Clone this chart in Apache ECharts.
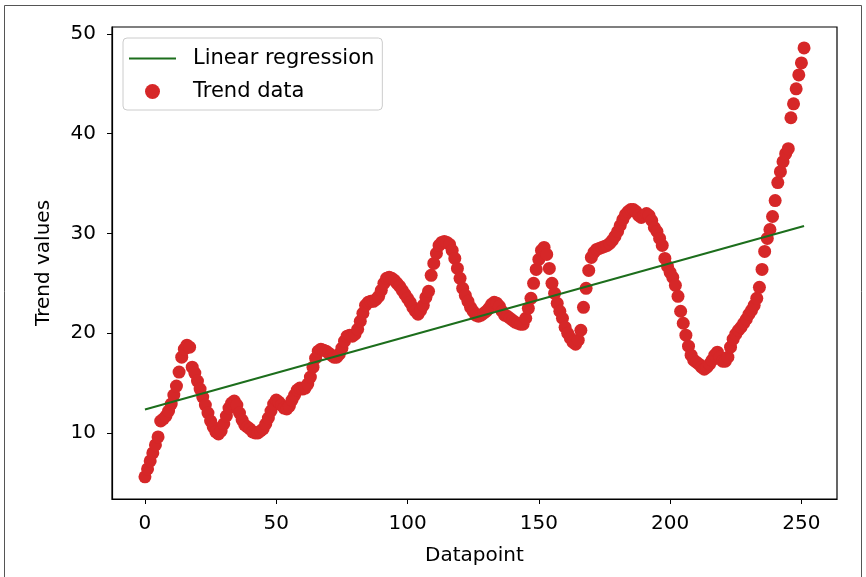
<!DOCTYPE html>
<html>
<head>
<meta charset="utf-8">
<script src="https://cdn.jsdelivr.net/npm/echarts@6/dist/echarts.min.js"></script>
<style>
  html, body { margin: 0; padding: 0; background: #fff; }
  #chart { width: 866px; height: 577px; }
</style>
</head>
<body>
<div id="chart"></div>
<script>
// ---- data ----
const trendValues = [
  5.6, 6.4, 7.2, 8.0, 8.8, 9.6, 11.2, 11.4, 11.7, 12.2,
  12.9, 13.8, 14.7, 16.1, 17.6, 18.4, 18.8, 18.6, 16.6, 16.0,
  15.2, 14.4, 13.6, 12.8, 12.0, 11.2, 10.6, 10.1, 9.9, 10.2,
  10.9, 11.7, 12.5, 13.0, 13.2, 12.8, 12.0, 11.3, 10.8, 10.6,
  10.4, 10.1, 10.0, 10.0, 10.2, 10.4, 10.9, 11.5, 12.2, 12.9,
  13.3, 13.1, 12.8, 12.5, 12.4, 12.7, 13.3, 13.8, 14.3, 14.5,
  14.4, 14.5, 14.9, 15.6, 16.6, 17.5, 18.2, 18.4, 18.3, 18.2,
  18.0, 17.8, 17.6, 17.6, 17.9, 18.5, 19.2, 19.7, 19.8, 19.7,
  19.9, 20.4, 21.2, 22.0, 22.8, 23.1, 23.2, 23.2, 23.4, 23.7,
  24.3, 25.0, 25.5, 25.6, 25.5, 25.3, 25.0, 24.7, 24.3, 23.9,
  23.5, 23.1, 22.6, 22.2, 21.9, 22.3, 22.8, 23.6, 24.2, 25.8,
  27.0, 28.0, 28.8, 29.1, 29.2, 29.1, 28.9, 28.3, 27.5, 26.5,
  25.5, 24.5, 23.8, 23.2, 22.6, 22.2, 21.8, 21.7, 21.8, 22.0,
  22.2, 22.5, 22.9, 23.1, 23.0, 22.7, 22.2, 21.8, 21.7, 21.5,
  21.3, 21.1, 21.0, 20.9, 20.9, 21.5, 22.5, 23.5, 25.0, 26.4,
  27.4, 28.3, 28.6, 27.9, 26.5, 25.0, 24.0, 23.0, 22.2, 21.5,
  20.6, 20.0, 19.5, 19.1, 18.9, 19.3, 20.3, 22.6, 24.5, 26.3,
  27.6, 28.1, 28.4, 28.5, 28.6, 28.7, 28.8, 29.0, 29.3, 29.7,
  30.2, 30.8, 31.4, 31.9, 32.2, 32.4, 32.4, 32.2, 31.8, 31.6,
  31.8, 32.0, 31.8, 31.3, 30.6, 30.2, 29.5, 28.8, 27.5, 26.7,
  26.1, 25.6, 24.8, 23.7, 22.2, 21.0, 19.8, 18.7, 17.8, 17.3,
  17.1, 16.9, 16.6, 16.4, 16.6, 16.9, 17.3, 17.8, 18.1, 17.6,
  17.2, 17.2, 17.6, 18.6, 19.4, 19.9, 20.3, 20.6, 21.0, 21.4,
  21.9, 22.3, 22.8, 23.5, 24.6, 26.4, 28.2, 29.5, 30.4, 31.7,
  33.3, 35.1, 36.2, 37.2, 38.0, 38.5, 41.6, 43.0, 44.5, 45.9,
  47.1, 48.6
];
const regressionX = [0, 251];
const regressionY = [12.35, 30.75];
const xTickValues = [0, 50, 100, 150, 200, 250];
const yTickValues = [10, 20, 30, 40, 50];
const seriesNames = ['Linear regression', 'Trend data'];
// ---------------------------------------

const FONT = 'DejaVu Sans';
const scatterData = trendValues.map((v, i) => [i, v]);
const lineData = regressionX.map((x, i) => [x, regressionY[i]]);

const chart = echarts.init(document.getElementById('chart'), null, { renderer: 'canvas' });
chart.setOption({
  backgroundColor: '#fff',
  animation: false,
  graphic: [{
    type: 'rect',
    shape: { x: 4.5, y: 5.5, width: 857, height: 590 },
    style: { fill: 'none', stroke: '#555', lineWidth: 1 },
    silent: true,
    z: -10
  }],
  grid: {
    left: 112, right: 29, top: 27, bottom: 78,
    show: true, borderColor: '#000', borderWidth: 1.2, backgroundColor: 'transparent'
  },
  legend: {
    orient: 'vertical',
    left: 123, top: 38,
    padding: [10, 8, 8, 5],
    itemWidth: 47, itemHeight: 15, itemGap: 12,
    backgroundColor: '#fff',
    borderColor: '#cccccc', borderWidth: 1, borderRadius: 4,
    textStyle: { fontFamily: FONT, fontSize: 21, color: '#000', padding: [0, 0, 0, 12] },
    data: [
      { name: seriesNames[0], itemStyle: { opacity: 0 } },
      { name: seriesNames[1] }
    ]
  },
  xAxis: {
    type: 'value',
    min: -12.55, max: 263.55,
    name: 'Datapoint', nameLocation: 'middle', nameGap: 47,
    nameTextStyle: { fontFamily: FONT, fontSize: 20, color: '#000' },
    axisLine: { show: true, onZero: false, lineStyle: { color: '#000', width: 1.2 } },
    axisTick: { show: true, length: 5, lineStyle: { color: '#000', width: 1 }, customValues: xTickValues },
    axisLabel: { fontFamily: FONT, fontSize: 20, color: '#000', margin: 15, customValues: xTickValues },
    splitLine: { show: false }
  },
  yAxis: {
    type: 'value',
    min: 3.38, max: 50.7,
    name: 'Trend values', nameLocation: 'middle', nameGap: 58, nameRotate: 90,
    nameTextStyle: { fontFamily: FONT, fontSize: 20, color: '#000' },
    axisLine: { show: true, onZero: false, lineStyle: { color: '#000', width: 1.2 } },
    axisTick: { show: true, length: 5, lineStyle: { color: '#000', width: 1 }, customValues: yTickValues },
    axisLabel: { fontFamily: FONT, fontSize: 20, color: '#000', margin: 16, customValues: yTickValues },
    splitLine: { show: false }
  },
  series: [
    {
      name: seriesNames[0],
      type: 'line',
      data: lineData,
      symbol: 'none',
      lineStyle: { color: '#1c6e1c', width: 2 },
      itemStyle: { color: '#1c6e1c' },
      z: 5
    },
    {
      name: seriesNames[1],
      type: 'scatter',
      data: scatterData,
      symbol: 'circle',
      symbolSize: 13,
      itemStyle: { color: '#d62728', opacity: 1 },
      z: 3
    }
  ]
});
</script>
</body>
</html>
